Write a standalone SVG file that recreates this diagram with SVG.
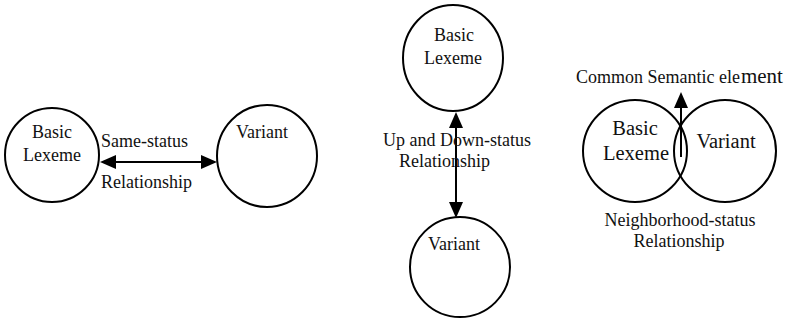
<svg xmlns="http://www.w3.org/2000/svg" width="789" height="320" viewBox="0 0 789 320">
  <style>
    .node { fill: none; stroke: #000; stroke-width: 2; }
    .link { fill: none; stroke: #000; stroke-width: 2; }
    text { font-family: "Liberation Serif", "Times New Roman", serif; font-size: 18px; fill: #111; }
    .mid { text-anchor: middle; }
    .big { font-size: 20.5px; }
  </style>
  <defs>
    <marker id="head" viewBox="0 0 16 14" refX="8" refY="7" markerWidth="16" markerHeight="14" markerUnits="userSpaceOnUse" orient="auto-start-reverse">
      <path d="M0,0 L16,7 L0,14 z" fill="#000"/>
    </marker>
  </defs>

  <!-- Same-status pair -->
  <g id="same-basic">
    <ellipse class="node" cx="52" cy="155" rx="47" ry="47"/>
    <text class="mid" x="52" y="138">Basic</text>
    <text class="mid" x="52" y="161">Lexeme</text>
  </g>
  <g id="same-variant">
    <ellipse class="node" cx="267" cy="156" rx="50" ry="51"/>
    <text class="mid" x="262" y="138">Variant</text>
  </g>

  <!-- Up and Down-status pair -->
  <g id="updown-basic">
    <ellipse class="node" cx="453" cy="58" rx="50" ry="53"/>
    <text class="mid" x="454" y="41">Basic</text>
    <text class="mid" x="453" y="64">Lexeme</text>
  </g>
  <g id="updown-variant">
    <ellipse class="node" cx="460" cy="267" rx="50" ry="50"/>
    <text class="mid" x="454" y="250">Variant</text>
  </g>

  <!-- Neighborhood-status pair -->
  <g id="neighbor-basic">
    <ellipse class="node" cx="635" cy="151" rx="52" ry="51"/>
    <text class="mid big" x="635" y="135">Basic</text>
    <text class="mid big" x="636" y="160">Lexeme</text>
  </g>
  <g id="neighbor-variant">
    <ellipse class="node" cx="725" cy="151" rx="51" ry="51"/>
    <text class="mid big" x="726" y="148">Variant</text>
  </g>

  <!-- Connectors -->
  <g id="connectors">
    <line class="link" x1="108" y1="162" x2="209" y2="162" marker-start="url(#head)" marker-end="url(#head)"/>
    <line class="link" x1="456" y1="120" x2="456" y2="210" marker-start="url(#head)" marker-end="url(#head)"/>
    <line class="link" x1="681" y1="157" x2="681" y2="100" marker-end="url(#head)"/>
  </g>

  <!-- Relationship labels -->
  <g id="labels">
    <text x="101" y="147">Same-status</text>
    <text x="101" y="188">Relationship</text>
    <text x="383" y="146">Up and Down-status</text>
    <text x="399" y="167">Relationship</text>
    <text x="576" y="83">Common Semantic ele<tspan dx="1" font-size="21px">ment</tspan></text>
    <text class="mid" x="680" y="226">Neighborhood-status</text>
    <text class="mid" x="679" y="247">Relationship</text>
  </g>
</svg>
